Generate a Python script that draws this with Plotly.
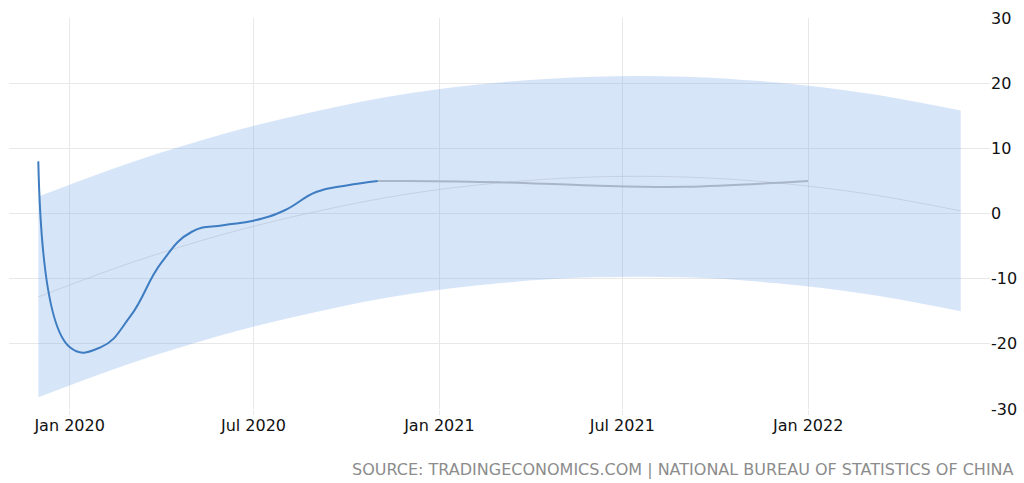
import plotly.graph_objects as go

# Actual data (retail sales YoY, %)
actual_dates = ["2019-12-01", "2020-01-01", "2020-02-01", "2020-03-01", "2020-04-01",
                "2020-05-01", "2020-06-01", "2020-07-01", "2020-08-01", "2020-09-01",
                "2020-10-01", "2020-11-01"]
actual_values = [8.0, -20.5, -20.5, -15.8, -7.5, -2.8, -1.8, -1.1, 0.5, 3.3, 4.3, 5.0]

# Forecast
forecast_dates = ["2020-11-01", "2020-12-01", "2021-03-01", "2021-06-01", "2021-09-01", "2022-01-01"]
forecast_values = [5.0, 5.0, 4.8, 4.3, 4.1, 5.0]

# Trend and band
trend_dates = ["2019-12-01", "2020-03-01", "2020-06-01", "2020-09-01", "2020-12-01",
               "2021-03-01", "2021-06-01", "2021-09-01", "2021-12-01", "2022-03-01",
               "2022-06-01"]
trend_values = [-12.8, -7.6, -3.2, 0.3, 3.0, 4.7, 5.6, 5.6, 4.7, 3.0, 0.4]
band_upper = [2.6, 7.8, 12.2, 15.7, 18.4, 20.1, 21.0, 21.0, 20.1, 18.4, 15.8]
band_lower = [-28.2, -23.0, -18.6, -15.1, -12.4, -10.7, -9.8, -9.8, -10.7, -12.4, -15.0]

x_tick_vals = ["2020-01-01", "2020-07-01", "2021-01-01", "2021-07-01", "2022-01-01"]
x_tick_text = ["Jan 2020", "Jul 2020", "Jan 2021", "Jul 2021", "Jan 2022"]
y_tick_vals = [-30, -20, -10, 0, 10, 20, 30]
y_tick_text = ["-30", "-20", "-10", "0", "10", "20", "30"]

source_text = "SOURCE: TRADINGECONOMICS.COM | NATIONAL BUREAU OF STATISTICS OF CHINA"

band_color = "rgba(124,170,235,0.3)"

fig = go.Figure()
fig.add_trace(go.Scatter(x=trend_dates, y=band_lower, mode="lines",
                         line=dict(width=0, shape="spline", color=band_color),
                         showlegend=False, hoverinfo="skip"))
fig.add_trace(go.Scatter(x=trend_dates, y=band_upper, mode="lines",
                         line=dict(width=0, shape="spline", color=band_color),
                         fill="tonexty", fillcolor=band_color,
                         showlegend=False, hoverinfo="skip"))
fig.add_trace(go.Scatter(x=trend_dates, y=trend_values, mode="lines",
                         line=dict(width=1, shape="spline", color="rgba(185,195,210,0.6)"),
                         showlegend=False))
fig.add_trace(go.Scatter(x=forecast_dates, y=forecast_values, mode="lines",
                         line=dict(width=2, shape="spline", color="rgb(168,182,200)"),
                         showlegend=False))
fig.add_trace(go.Scatter(x=actual_dates, y=actual_values, mode="lines",
                         line=dict(width=2, shape="spline", smoothing=1.3, color="rgb(62,125,193)"),
                         showlegend=False))

fig.update_layout(
    width=1024, height=483,
    margin=dict(l=9, r=34, t=18, b=74, autoexpand=False),
    paper_bgcolor="white", plot_bgcolor="white",
    font=dict(family="DejaVu Sans", size=15, color="black"),
    xaxis=dict(range=["2019-11-02", "2022-06-30"], tickvals=x_tick_vals, ticktext=x_tick_text,
               showgrid=True, gridcolor="#e8e8e8", gridwidth=1,
               ticks="outside", ticklen=5, tickcolor="#e8e8e8", ticklabelstandoff=-3,
               showline=False, zeroline=False, automargin=False,
               tickfont=dict(size=16, color="#111")),
    yaxis=dict(range=[-30, 30], tickvals=y_tick_vals, ticktext=y_tick_text, side="right",
               showgrid=True, gridcolor="#e8e8e8", gridwidth=1,
               showline=False, zeroline=False, ticks="", automargin=False,
               tickfont=dict(size=16, color="#111")),
    annotations=[dict(text=source_text, xref="paper", yref="paper",
                      x=1.026, y=-0.155, xanchor="right", yanchor="middle",
                      showarrow=False, font=dict(size=16, color="#8c8c8c"))],
)

fig.write_html("out.html", config={"displayModeBar": False},
               post_script="document.body.style.margin='0';document.body.style.overflow='hidden';")
